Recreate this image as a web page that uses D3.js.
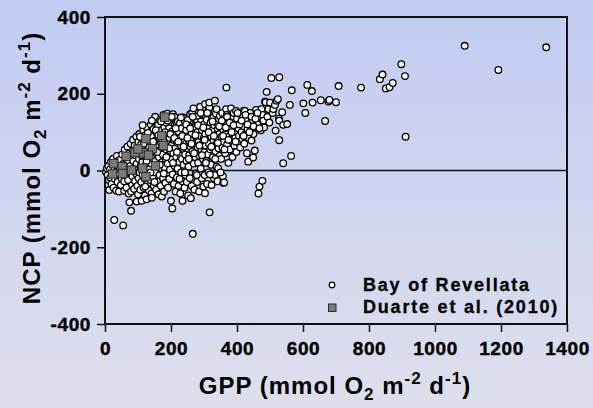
<!DOCTYPE html>
<html>
<head>
<meta charset="utf-8">
<script src="https://d3js.org/d3.v7.min.js"></script>
<style>
  html, body { margin: 0; padding: 0; }
  svg { display: block; }
  text { font-family: "Liberation Sans", Arial, sans-serif; font-weight: bold; fill: #000; }
</style>
</head>
<body>
<svg id="chart" width="593" height="408"></svg>
<script>
// GPP vs NCP (mmol O2 m-2 d-1)
var revellata = [
  [3,-4],[6,6],[8,-12],[10,12],[12,-25],[13,-51],[15,3],[16,-18],[18,22],[20,-35],[22,-8],[24,30],[26,-45],[28,-129],[28,8],[30,-22],[32,15],[34,-52],[35,-3],[36,38],[38,-30],[39,25],
  [42,-55],[44,-10],[45,5],[46,28],[48,-38],[50,-20],[52,42],[55,-143],[55,-2],[56,18],[58,-53],[58,-28],[60,55],[62,-12],[63,30],[65,-45],[66,8],[68,62],[70,-25],[70,20],[72,-60],[73,45],[74,-83],[75,-5],[76,12],[78,70],[79,-105],[79,-55],[80,35],[82,-38],[83,-15],[84,52],[85,80],[86,25],[88,-48],[88,5],[90,65],[91,-28],[92,40],[94,-8],[95,88],[96,-81],[96,18],[98,-40],[98,58],
  [100,-62],[101,75],[102,-20],[103,30],[104,95],[105,-5],[106,48],[107,-50],[108,12],[109,68],[110,-30],[111,-79],[112,85],[113,22],[114,-12],[115,55],[116,105],[117,-45],[118,38],[119,2],[120,72],[121,-65],[122,-22],[123,92],[124,15],[125,48],[126,-75],[127,112],[128,-35],[129,62],[130,28],[131,-8],[132,82],[133,-52],[134,40],[135,100],[136,5],[137,-25],[138,70],[139,120],[140,18],[141,-60],[142,-71],[143,50],[144,88],[145,-15],[146,32],[147,108],[148,-40],[149,62],
  [150,128],[151,-5],[152,140],[153,25],[154,78],[155,-50],[156,45],[157,98],[158,-28],[159,12],[160,65],[161,118],[162,-62],[163,35],[164,85],[165,-12],[166,52],[167,132],[168,5],[169,-40],[170,72],[171,105],[172,-68],[173,22],[174,90],[175,42],[176,-20],[177,145],[178,60],[179,-55],[180,112],[181,8],[182,80],[183,-32],[184,30],[185,125],[186,55],[187,-8],[188,95],[189,148],[190,18],[191,-45],[192,70],[193,38],[194,110],[195,-22],[196,85],[197,2],[198,135],[199,50],
  [200,-79],[201,65],[202,28],[203,102],[204,-99],[205,-10],[206,147],[207,45],[208,80],[209,-35],[210,140],[211,12],[212,118],[213,58],[214,-55],[215,92],[216,35],[217,118],[218,-18],[219,72],[220,5],[221,128],[222,50],[223,-40],[224,100],[225,22],[226,85],[227,123],[228,-60],[229,40],[230,65],[231,-5],[232,110],[233,30],[234,-28],[235,-79],[236,78],[237,138],[238,15],[239,55],[240,95],[241,-45],[242,127],[243,42],[244,-12],[245,70],[246,105],[247,25],[248,-30],[249,88],
  [250,58],[251,132],[252,-65],[253,10],[254,78],[255,40],[256,115],[257,-20],[258,147],[259,62],[260,-72],[261,28],[262,95],[263,-40],[264,149],[265,50],[266,-165],[267,80],[268,162],[269,18],[270,110],[271,-50],[272,68],[273,35],[274,130],[275,-8],[276,88],[277,45],[278,132],[279,-30],[280,100],[281,60],[282,20],[283,142],[284,75],[285,-55],[286,115],[287,38],[288,166],[289,90],[290,5],[291,128],[292,55],[293,-20],[294,105],[295,70],[296,145],[297,30],[298,-42],[299,85],
  [300,120],[301,48],[302,-12],[303,173],[303,-59],[304,95],[305,65],[306,140],[307,25],[308,132],[309,-35],[310,80],[311,110],[312,42],[313,155],[314,-5],[315,70],[316,164],[316,177],[317,-109],[318,100],[319,55],[320,125],[321,15],[322,88],[323,-38],[324,138],[325,60],[326,105],[327,35],[328,138],[329,78],[330,-20],[331,118],[333,182],[333,-12],[334,92],[335,50],[336,148],[337,68],[338,10],[339,125],[340,82],[341,-28],[342,108],[343,6],[344,58],[345,135],[346,95],[347,38],[348,142],[349,72],
  [350,115],[352,30],[353,88],[355,150],[356,60],[357,-15],[358,-32],[359,105],[360,75],[361,-31],[362,130],[364,45],[365,95],[367,160],[368,216],[369,145],[370,68],[372,120],[374,20],[375,88],[377,140],[378,55],[380,108],[382,162],[383,78],[385,130],[386,35],[388,98],[389,140],[390,150],[392,65],[394,118],[395,85],[397,155],[398,48],[399,102],
  [400,135],[402,75],[404,110],[406,90],[408,148],[410,60],[412,125],[414,100],[416,82],[418,140],[420,115],[421,156],[422,70],[424,155],[426,95],[428,130],[430,45],[432,108],[434,23],[436,85],[438,120],[440,150],[442,100],[444,78],[446,130],[448,115],[449,34],[450,95],
  [454,52],[458,158],[462,120],[465,-60],[466,140],[468,-42],[470,149],[472,105],[474,160],[477,-27],[478,145],[480,130],[482,112],[485,179],[487,178],[490,205],[492,140],[495,160],[498,125],[500,177],
  [504,241],[508,150],[510,160],[515,171],[517,104],[520,182],[524,186],[527,135],[528,243],[528,79],[528,130],[537,152],[540,19],[540,119],[552,121],[560,171],[566,209],[564,38],
  [601,175],[607,150],[613,223],[627,207],[629,177],[654,183],[667,129],[677,180],[680,184],[700,178],[708,220],[776,216],[833,238],[841,250],[851,214],[862,217],[872,228],[898,277],[909,246],[911,88],[1090,325],[1192,262],[1337,321],
  [102,52],[106,88],[110,40],[114,118],[118,70],[122,-42],[126,25],[130,98],[134,60],[138,-5],[142,130],[146,75],[150,-30],[154,105],[158,48],[162,92],[166,15],[170,128],[174,62],[178,-8],[182,100],[186,35],[190,130],[194,58],[198,95],[202,140],[206,20],[210,85],[214,110],[218,48],[222,75],[226,-22],[230,138],[234,90],[238,62],[242,-5],[246,120],[250,85],[254,30],[258,110],[262,70],[266,140],[270,45],[274,92],[278,-12],[282,118],[286,65],[290,150],[294,40],[298,112],[302,80],[306,20],[310,150],[314,100],[318,-10],[322,62],[326,128],[330,90],[334,30],[338,160],[342,72],[346,115],[350,-5],[354,130],[358,90],[362,55],[366,112],[370,140],[374,80],[378,125],[384,100],[390,118],[396,75],[402,150],[408,120],[414,130],[420,90],[426,145],[432,120],[438,100],[444,140],[450,115],[456,135],[462,150],[468,110]
];

var duarte = [
  [181,139],[172,91],[177,65],[124,83],[144,57],[116,46],[91,47],[64,37],[100,56],
  [27,18],[52,10],[80,1],[23,-9],[53,-8],[114,6],[124,-16],[153,12],[132,40]
];

var xTicks = [0, 200, 400, 600, 800, 1000, 1200, 1400];
var yTicks = [-400, -200, 0, 200, 400];
var legendLabels = ["Bay of Revellata", "Duarte et al. (2010)"];

var svg = d3.select("#chart");
var W = 593, H = 408;

// background gradient
var grad = svg.append("defs").append("linearGradient")
    .attr("id", "bg").attr("x1", 0).attr("y1", 0).attr("x2", 0).attr("y2", 1);
grad.append("stop").attr("offset", "0%").attr("stop-color", "#c1ccf3");
grad.append("stop").attr("offset", "100%").attr("stop-color", "#dedfeb");
svg.append("rect").attr("width", W).attr("height", H).attr("fill", "url(#bg)");

var x = d3.scaleLinear().domain([0, 1400]).range([105, 567]);
var y = d3.scaleLinear().domain([-400, 400]).range([324, 17]);

// axes
var gx = svg.append("g").attr("transform", "translate(0," + y(-400) + ")")
    .call(d3.axisBottom(x).tickValues(xTicks).tickFormat(d => String(d))
      .tickSize(8).tickSizeOuter(0).tickPadding(10));
var gy = svg.append("g").attr("transform", "translate(" + x(0) + ",0)")
    .call(d3.axisLeft(y).tickValues(yTicks).tickFormat(d => String(d))
      .tickSize(8).tickSizeOuter(0).tickPadding(6));
[gx, gy].forEach(g => {
  g.select(".domain").remove();
  g.selectAll(".tick line").attr("stroke", "#111").attr("stroke-width", 1.5);
  g.selectAll(".tick text").attr("font-size", 19).attr("font-family", "Liberation Sans, Arial, sans-serif")
    .attr("font-weight", "bold").attr("fill", "#000").attr("letter-spacing", "0.6px")
    .attr("stroke", "#000").attr("stroke-width", 0.4);
});

// frame and zero line
svg.append("rect")
    .attr("x", x(0)).attr("y", y(400))
    .attr("width", x(1400) - x(0)).attr("height", y(-400) - y(400))
    .attr("fill", "none").attr("stroke", "#111").attr("stroke-width", 2);
svg.append("line")
    .attr("x1", x(0)).attr("x2", x(1400)).attr("y1", y(0)).attr("y2", y(0))
    .attr("stroke", "#111").attr("stroke-width", 1.5);

// points
svg.append("g").selectAll("circle")
    .data(revellata).enter().append("circle")
    .attr("cx", d => x(d[0])).attr("cy", d => y(d[1]))
    .attr("r", 3.3).attr("fill", "#fff").attr("stroke", "#000").attr("stroke-width", 1.3);

var sq = 8.5;
svg.append("g").selectAll("rect")
    .data(duarte).enter().append("rect")
    .attr("x", d => x(d[0]) - sq / 2).attr("y", d => y(d[1]) - sq / 2)
    .attr("width", sq).attr("height", sq)
    .attr("fill", "#7a7a7a").attr("stroke", "#2a2a2a").attr("stroke-width", 1);

// legend
var leg = svg.append("g");
leg.append("circle").attr("cx", 332).attr("cy", 285).attr("r", 2.8)
    .attr("fill", "#fff").attr("stroke", "#000").attr("stroke-width", 1.2);
leg.append("rect").attr("x", 328.5).attr("y", 304).attr("width", 7.5).attr("height", 7.5)
    .attr("fill", "#7a7a7a").attr("stroke", "#2a2a2a").attr("stroke-width", 1);
leg.selectAll("text.lg").data(legendLabels).enter().append("text")
    .attr("class", "lg")
    .attr("x", 363).attr("y", (d, i) => 291 + i * 22)
    .attr("font-size", 18).attr("letter-spacing", "1.8px")
    .attr("stroke", "#000").attr("stroke-width", 0.3)
    .text(d => d);

// axis titles with sub/superscripts
function unitTitle(sel, name) {
  sel.append("tspan").text(name + " (mmol O");
  sel.append("tspan").attr("font-size", 17).attr("dy", 6).text("2");
  sel.append("tspan").attr("dy", -6).text(" m");
  sel.append("tspan").attr("font-size", 17).attr("dy", -10).text("-2");
  sel.append("tspan").attr("dy", 10).text(" d");
  sel.append("tspan").attr("font-size", 17).attr("dy", -10).text("-1");
  sel.append("tspan").attr("dy", 10).text(")");
}
svg.append("text").attr("x", 335).attr("y", 394).attr("text-anchor", "middle")
    .attr("font-size", 24).attr("letter-spacing", "1px").call(unitTitle, "GPP");
svg.append("text").attr("transform", "translate(40,168) rotate(-90)")
    .attr("text-anchor", "middle").attr("font-size", 24).attr("letter-spacing", "1px").call(unitTitle, "NCP");
</script>
</body>
</html>
